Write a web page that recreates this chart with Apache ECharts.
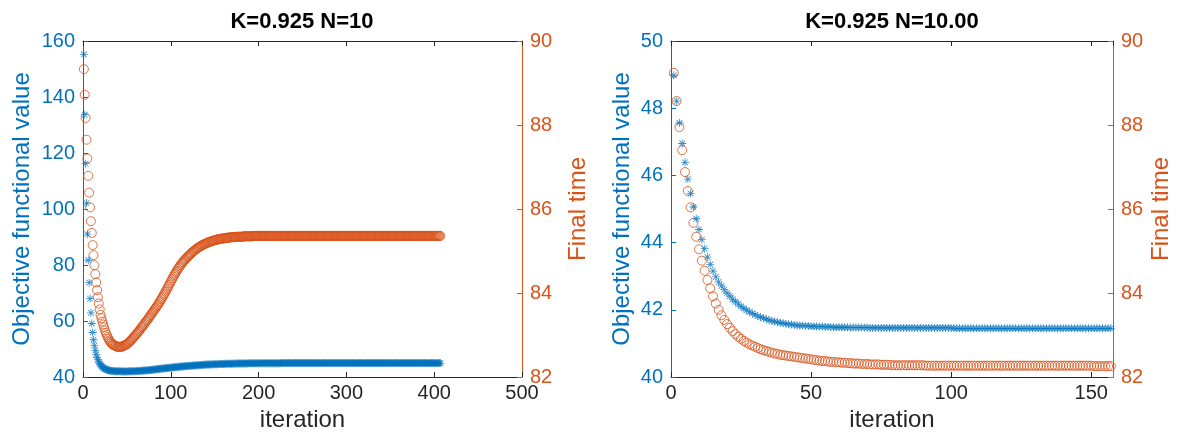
<!DOCTYPE html>
<html>
<head>
<meta charset="utf-8">
<script src="https://cdn.jsdelivr.net/npm/echarts@6/dist/echarts.min.js"></script>
<style>
html,body{margin:0;padding:0;background:#fff;}
#chart{width:1177px;height:439px;}
</style>
</head>
<body>
<div id="chart"></div>
<script>
// ---------- data ----------
const titleLeft = 'K=0.925 N=10';
const titleRight = 'K=0.925 N=10.00';
const xTicksLeft = [0, 100, 200, 300, 400, 500];
const xTicksRight = [0, 50, 100, 150];

// left panel: objective functional value per iteration (iterations 1..407)
const leftObjective = [
155.2,133.7,116.2,102.1,91.0,81.7,73.7,68.0,62.9,59.1,
55.9,53.3,51.2,49.5,48.1,47.0,46.1,45.4,44.8,44.3,
43.9,43.6,43.3,43.1,42.9,42.75,42.6,42.5,42.4,42.33,
42.27,42.22,42.18,42.14,42.11,42.09,42.07,42.05,42.04,42.03,
42.02,42.01,42.01,42.0,42.0,42.0,42.0,42.0,42.0,42.0,
42.0,42.01,42.02,42.03,42.04,42.05,42.06,42.07,42.08,42.1,
42.12,42.14,42.16,42.18,42.2,42.22,42.24,42.26,42.28,42.3,
42.33,42.36,42.39,42.42,42.45,42.48,42.51,42.54,42.58,42.62,
42.66,42.7,42.74,42.78,42.82,42.85,42.89,42.92,42.96,43.0,
43.04,43.07,43.11,43.14,43.18,43.21,43.25,43.28,43.32,43.35,
43.38,43.42,43.45,43.48,43.52,43.55,43.58,43.62,43.65,43.68,
43.71,43.74,43.77,43.79,43.82,43.85,43.88,43.9,43.93,43.96,
43.98,44.01,44.03,44.06,44.08,44.1,44.13,44.15,44.17,44.2,
44.22,44.24,44.26,44.28,44.3,44.32,44.34,44.36,44.38,44.4,
44.42,44.43,44.45,44.47,44.48,44.5,44.51,44.52,44.54,44.55,
44.56,44.58,44.59,44.6,44.61,44.62,44.63,44.64,44.66,44.67,
44.68,44.69,44.7,44.7,44.71,44.72,44.73,44.74,44.75,44.76,
44.76,44.77,44.78,44.78,44.79,44.8,44.8,44.81,44.82,44.83,
44.83,44.84,44.84,44.85,44.85,44.86,44.86,44.87,44.87,44.88,
44.88,44.88,44.89,44.89,44.89,44.9,44.9,44.9,44.91,44.91,
44.91,44.92,44.92,44.92,44.92,44.93,44.93,44.93,44.93,44.93,
44.94,44.94,44.94,44.94,44.94,44.94,44.95,44.95,44.95,44.95,
44.95,44.95,44.95,44.95,44.95,44.96,44.96,44.96,44.96,44.96,
44.96,44.96,44.96,44.96,44.96,44.96,44.97,44.97,44.97,44.97,
44.97,44.97,44.97,44.97,44.97,44.97,44.97,44.97,44.97,44.97,
44.97,44.97,44.97,44.97,44.97,44.97,44.97,44.97,44.97,44.97,
44.97,44.97,44.97,44.97,44.97,44.98,44.98,44.98,44.98,44.98,
44.98,44.98,44.98,44.98,44.98,44.98,44.98,44.98,44.98,44.98,
44.98,44.98,44.98,44.98,44.98,44.98,44.98,44.98,44.98,44.98,
44.98,44.98,44.98,44.98,44.98,44.98,44.98,44.98,44.98,44.98,
44.98,44.98,44.98,44.98,44.98,44.98,44.98,44.98,44.98,44.98,
44.98,44.98,44.98,44.98,44.98,44.98,44.98,44.98,44.98,44.98,
44.98,44.98,44.98,44.98,44.98,44.98,44.98,44.98,44.98,44.98,
44.98,44.98,44.98,44.98,44.98,44.98,44.98,44.98,44.98,44.98,
44.98,44.98,44.98,44.98,44.98,44.98,44.98,44.98,44.98,44.98,
44.98,44.98,44.98,44.98,44.98,44.98,44.98,44.98,44.98,44.98,
44.98,44.98,44.98,44.98,44.98,44.98,44.98,44.98,44.98,44.98,
44.98,44.98,44.98,44.98,44.98,44.98,44.98,44.98,44.98,44.98,
44.98,44.98,44.98,44.98,44.98,44.98,44.98,44.98,44.98,44.98,
44.98,44.98,44.98,44.98,44.98,44.98,44.98,44.98,44.98,44.98,
44.98,44.98,44.98,44.98,44.98,44.98,44.98
];

// left panel: final time per iteration (iterations 1..407)
const leftFinalTime = [
89.33,88.72,88.17,87.65,87.2,86.79,86.39,86.04,85.71,85.43,
85.14,84.9,84.66,84.45,84.25,84.07,83.9,83.75,83.61,83.48,
83.4,83.32,83.25,83.18,83.11,83.05,83.0,82.95,82.91,82.87,
82.84,82.81,82.79,82.77,82.76,82.75,82.74,82.73,82.72,82.72,
82.72,82.72,82.72,82.72,82.73,82.74,82.75,82.76,82.77,82.78,
82.8,82.82,82.84,82.86,82.88,82.91,82.93,82.95,82.98,83.0,
83.03,83.05,83.08,83.1,83.13,83.16,83.19,83.21,83.24,83.27,
83.3,83.33,83.35,83.38,83.41,83.44,83.47,83.5,83.53,83.56,
83.59,83.62,83.65,83.68,83.71,83.74,83.78,83.81,83.85,83.88,
83.92,83.96,83.99,84.03,84.07,84.11,84.15,84.19,84.23,84.27,
84.31,84.35,84.39,84.43,84.46,84.5,84.53,84.57,84.6,84.63,
84.66,84.69,84.72,84.74,84.77,84.79,84.81,84.84,84.86,84.88,
84.9,84.92,84.94,84.96,84.98,85.0,85.01,85.03,85.05,85.06,
85.08,85.09,85.1,85.12,85.13,85.14,85.15,85.16,85.17,85.18,
85.19,85.2,85.21,85.21,85.22,85.23,85.24,85.24,85.25,85.26,
85.26,85.27,85.27,85.28,85.28,85.29,85.29,85.29,85.3,85.3,
85.3,85.31,85.31,85.31,85.32,85.32,85.32,85.32,85.33,85.33,
85.33,85.33,85.33,85.33,85.34,85.34,85.34,85.34,85.34,85.34,
85.34,85.34,85.35,85.35,85.35,85.35,85.35,85.35,85.35,85.35,
85.35,85.35,85.35,85.36,85.36,85.36,85.36,85.36,85.36,85.36,
85.36,85.36,85.36,85.36,85.36,85.36,85.36,85.36,85.36,85.36,
85.36,85.36,85.36,85.36,85.36,85.36,85.36,85.36,85.36,85.36,
85.36,85.36,85.36,85.36,85.36,85.36,85.36,85.36,85.36,85.36,
85.36,85.36,85.36,85.36,85.36,85.36,85.36,85.36,85.36,85.36,
85.36,85.36,85.36,85.36,85.36,85.36,85.36,85.36,85.36,85.36,
85.36,85.36,85.36,85.36,85.36,85.36,85.36,85.36,85.36,85.36,
85.36,85.36,85.36,85.36,85.36,85.36,85.36,85.36,85.36,85.36,
85.36,85.36,85.36,85.36,85.36,85.36,85.36,85.36,85.36,85.36,
85.36,85.36,85.36,85.36,85.36,85.36,85.36,85.36,85.36,85.36,
85.36,85.36,85.36,85.36,85.36,85.36,85.36,85.36,85.36,85.36,
85.36,85.36,85.36,85.36,85.36,85.36,85.36,85.36,85.36,85.36,
85.36,85.36,85.36,85.36,85.36,85.36,85.36,85.36,85.36,85.36,
85.36,85.36,85.36,85.36,85.36,85.36,85.36,85.36,85.36,85.36,
85.36,85.36,85.36,85.36,85.36,85.36,85.36,85.36,85.36,85.36,
85.36,85.36,85.36,85.36,85.36,85.36,85.36,85.36,85.36,85.36,
85.36,85.36,85.36,85.36,85.36,85.36,85.36,85.36,85.36,85.36,
85.36,85.36,85.36,85.36,85.36,85.36,85.36,85.36,85.36,85.36,
85.36,85.36,85.36,85.36,85.36,85.36,85.36,85.36,85.36,85.36,
85.36,85.36,85.36,85.36,85.36,85.36,85.36,85.36,85.36,85.36,
85.36,85.36,85.36,85.36,85.36,85.36,85.36,85.36,85.36,85.36,
85.36,85.36,85.36,85.36,85.36,85.36,85.36
];

// right panel: objective functional value per iteration (iterations 1..157)
const rightObjective = [
48.98,48.21,47.56,46.95,46.39,45.89,45.46,45.06,44.71,44.39,
44.09,43.82,43.57,43.35,43.15,42.98,42.83,42.71,42.6,42.5,
42.41,42.32,42.24,42.17,42.1,42.04,41.99,41.94,41.89,41.85,
41.81,41.78,41.75,41.72,41.69,41.67,41.65,41.63,41.61,41.6,
41.58,41.57,41.56,41.55,41.54,41.53,41.53,41.52,41.52,41.51,
41.51,41.5,41.5,41.5,41.49,41.49,41.49,41.48,41.48,41.48,
41.48,41.48,41.47,41.47,41.47,41.47,41.47,41.47,41.47,41.47,
41.46,41.46,41.46,41.46,41.46,41.46,41.46,41.46,41.46,41.46,
41.46,41.46,41.46,41.46,41.46,41.46,41.46,41.46,41.46,41.46,
41.46,41.46,41.46,41.46,41.46,41.46,41.46,41.46,41.46,41.46,
41.45,41.45,41.45,41.45,41.45,41.45,41.45,41.45,41.45,41.45,
41.45,41.45,41.45,41.45,41.45,41.45,41.45,41.45,41.45,41.45,
41.45,41.45,41.45,41.45,41.45,41.45,41.45,41.45,41.45,41.45,
41.45,41.45,41.45,41.45,41.45,41.45,41.45,41.45,41.45,41.45,
41.45,41.45,41.45,41.45,41.45,41.45,41.45,41.45,41.45,41.45,
41.45,41.45,41.45,41.45,41.45,41.45,41.45
];

// right panel: final time per iteration (iterations 1..157)
const rightFinalTime = [
89.24,88.57,87.95,87.4,86.88,86.43,86.04,85.67,85.34,85.04,
84.77,84.53,84.31,84.11,83.92,83.75,83.6,83.47,83.36,83.26,
83.17,83.09,83.02,82.96,82.91,82.86,82.82,82.78,82.75,82.72,
82.69,82.66,82.64,82.62,82.6,82.58,82.56,82.55,82.53,82.52,
82.51,82.5,82.49,82.48,82.47,82.46,82.45,82.44,82.43,82.42,
82.41,82.4,82.39,82.38,82.38,82.37,82.36,82.36,82.35,82.35,
82.34,82.34,82.33,82.33,82.32,82.32,82.32,82.31,82.31,82.31,
82.3,82.3,82.3,82.3,82.29,82.29,82.29,82.29,82.28,82.28,
82.28,82.28,82.28,82.28,82.28,82.28,82.28,82.28,82.28,82.28,
82.27,82.27,82.27,82.27,82.27,82.27,82.27,82.27,82.27,82.27,
82.27,82.27,82.27,82.27,82.27,82.27,82.27,82.27,82.27,82.27,
82.27,82.27,82.27,82.27,82.27,82.27,82.27,82.27,82.27,82.27,
82.27,82.27,82.27,82.27,82.27,82.27,82.27,82.27,82.27,82.27,
82.27,82.27,82.27,82.27,82.27,82.27,82.27,82.27,82.27,82.27,
82.27,82.27,82.27,82.27,82.27,82.27,82.27,82.27,82.27,82.27,
82.26,82.26,82.26,82.26,82.26,82.26,82.26
];

// ---------- chart ----------
const BLUE = '#0072BD', ORANGE = '#D95319', DARK = '#262626';
const FONT = 'Liberation Sans, Arial, sans-serif';
const TICK_FS = 20, LABEL_FS = 24, TITLE_FS = 22;
const STAR = 'path://M9 0 L11 0 L11 20 L9 20 Z M0 9 L20 9 L20 11 L0 11 Z M2.2 3.6 L3.6 2.2 L17.8 16.4 L16.4 17.8 Z M16.4 2.2 L17.8 3.6 L3.6 17.8 L2.2 16.4 Z';

const pairs = arr => arr.map((v, i) => [i + 1, v]);

const grids = [
  {left: 83, top: 41, width: 439, height: 336},
  {left: 671, top: 41, width: 442, height: 336}
];

function xAxes(gi, max, interval) {
  return [
    {gridIndex: gi, type: 'value', position: 'bottom', min: 0, max: max, interval: interval,
     axisLine: {show: true, onZero: false, lineStyle: {color: DARK, width: 1}},
     axisTick: {show: true, inside: true, length: 5, lineStyle: {color: DARK}},
     axisLabel: {show: true, color: DARK, fontSize: TICK_FS, fontFamily: FONT, margin: 6,
                 showMaxLabel: gi === 0},
     splitLine: {show: false},
     name: 'iteration', nameLocation: 'middle', nameGap: 19,
     nameTextStyle: {color: DARK, fontSize: LABEL_FS, fontFamily: FONT, verticalAlign: 'top'}},
    {gridIndex: gi, type: 'value', position: 'top', min: 0, max: max, interval: interval,
     axisLine: {show: true, onZero: false, lineStyle: {color: DARK, width: 1}},
     axisTick: {show: true, inside: true, length: 5, lineStyle: {color: DARK}},
     axisLabel: {show: false}, splitLine: {show: false}}
  ];
}

function yAxes(gi, lmin, lmax, lint, rmin, rmax, rint, lgap, rgap) {
  return [
    {gridIndex: gi, type: 'value', position: 'left', min: lmin, max: lmax, interval: lint,
     axisLine: {show: true, onZero: false, lineStyle: {color: BLUE, width: 1}},
     axisTick: {show: true, inside: true, length: 5, lineStyle: {color: BLUE}},
     axisLabel: {color: BLUE, fontSize: TICK_FS, fontFamily: FONT, margin: 8},
     splitLine: {show: false},
     name: 'Objective functional value', nameLocation: 'middle', nameGap: lgap, nameRotate: 90,
     nameTextStyle: {color: BLUE, fontSize: LABEL_FS, fontFamily: FONT}},
    {gridIndex: gi, type: 'value', position: 'right', min: rmin, max: rmax, interval: rint,
     axisLine: {show: true, onZero: false, lineStyle: {color: ORANGE, width: 1}},
     axisTick: {show: true, inside: true, length: 5, lineStyle: {color: ORANGE}},
     axisLabel: {color: ORANGE, fontSize: TICK_FS, fontFamily: FONT, margin: 8},
     splitLine: {show: false},
     name: 'Final time', nameLocation: 'middle', nameGap: rgap, nameRotate: 90,
     nameTextStyle: {color: ORANGE, fontSize: LABEL_FS, fontFamily: FONT}}
  ];
}

const option = {
  backgroundColor: '#ffffff',
  animation: false,
  title: [
    {text: titleLeft, left: 302, top: 11, textAlign: 'center', padding: 0,
     textStyle: {fontSize: TITLE_FS, fontWeight: 'bold', color: '#000', fontFamily: FONT}},
    {text: titleRight, left: 892, top: 11, textAlign: 'center', padding: 0,
     textStyle: {fontSize: TITLE_FS, fontWeight: 'bold', color: '#000', fontFamily: FONT}}
  ],
  grid: grids,
  xAxis: [...xAxes(0, 500, 100), ...xAxes(1, 157.75, 50)],
  yAxis: [...yAxes(0, 40, 160, 20, 82, 90, 2, 49, 44), ...yAxes(1, 40, 50, 2, 82, 90, 2, 37, 36)],
  series: [
    {type: 'scatter', xAxisIndex: 0, yAxisIndex: 1, data: pairs(leftFinalTime),
     symbol: 'circle', symbolSize: 9, z: 2,
     itemStyle: {color: 'rgba(0,0,0,0)', borderColor: ORANGE, borderWidth: 1}},
    {type: 'scatter', xAxisIndex: 0, yAxisIndex: 0, data: pairs(leftObjective),
     symbol: STAR, symbolSize: 8, z: 3, itemStyle: {color: BLUE}},
    {type: 'scatter', xAxisIndex: 2, yAxisIndex: 3, data: pairs(rightFinalTime),
     symbol: 'circle', symbolSize: 9, z: 2,
     itemStyle: {color: 'rgba(0,0,0,0)', borderColor: ORANGE, borderWidth: 1}},
    {type: 'scatter', xAxisIndex: 2, yAxisIndex: 2, data: pairs(rightObjective),
     symbol: STAR, symbolSize: 8, z: 3, itemStyle: {color: BLUE}}
  ]
};

const chart = echarts.init(document.getElementById('chart'), null, {renderer: 'canvas'});
chart.setOption(option);
</script>
</body>
</html>
